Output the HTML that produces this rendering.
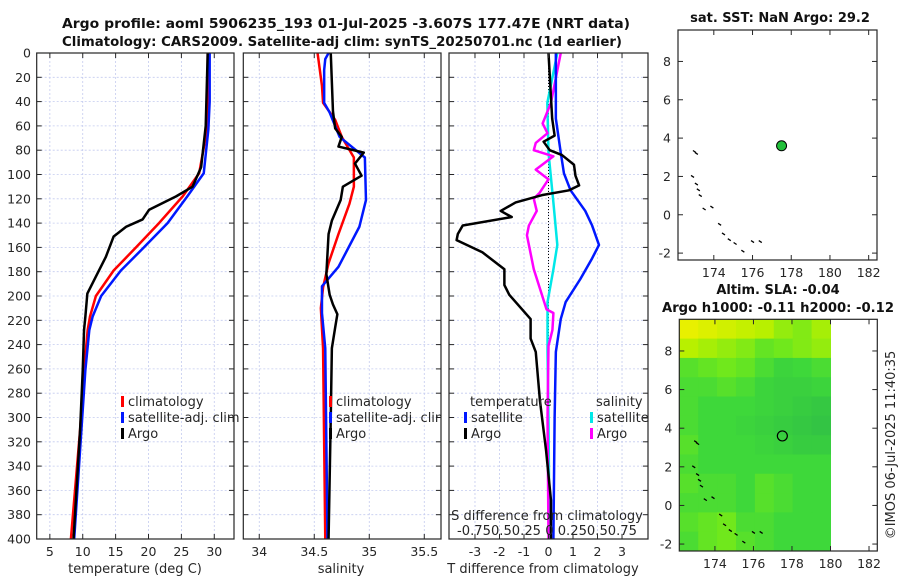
<!DOCTYPE html>
<html><head><meta charset="utf-8"><style>
html,body{margin:0;padding:0;background:#fff;}
svg{display:block;font-family:"DejaVu Sans","Liberation Sans",sans-serif;}
</style></head><body>
<svg id="fig" width="900" height="580" viewBox="0 0 900 580" xmlns="http://www.w3.org/2000/svg">
<defs><clipPath id="clip2"><rect x="243" y="53" width="198" height="486"/></clipPath></defs>
<g id="root"></g>
</svg>
<script>
// ---- data ----
const depthTicks = [0,20,40,60,80,100,120,140,160,180,200,220,240,260,280,300,320,340,360,380,400];
const tempTicks = [5,10,15,20,25,30];
const salTicks = [34,34.5,35,35.5];
const diffTicks = [-3,-2,-1,0,1,2,3];

const climTDepth = [0,40,63,99,118,140,160,179,200,217,228,261,310,400];
const climT      = [29.0,29.0,28.9,27.7,25.2,21.6,18.1,14.7,12.0,11.1,10.75,10.2,9.6,8.2];
const satTDepth  = [0,40,63,99,118,140,160,179,200,217,228,261,310,400];
const satT       = [29.3,29.3,29.1,28.4,25.9,22.9,19.3,15.8,12.8,11.5,11.0,10.4,9.8,8.7];
const argoTDepth = [0,60,94,110,118,122,129,137,143,151,168,184,198,217,228,261,310,400];
const argoT      = [29.0,28.7,28.0,26.7,24.2,22.7,20.1,19.1,16.6,14.7,13.5,12.0,10.7,10.4,10.2,10.0,9.6,8.6];

const climSDepth = [0,27,41,55,69,86,110,124,149,173,193,210,243,400];
const climS      = [34.53,34.57,34.58,34.69,34.75,34.86,34.86,34.82,34.72,34.63,34.58,34.56,34.58,34.60];
const satSDepth  = [0,5,14,41,49,69,86,121,143,176,192,214,243,400];
const satS       = [34.63,34.6,34.59,34.59,34.64,34.73,34.96,34.97,34.91,34.72,34.57,34.57,34.6,34.62];
const argoSDepth = [0,48,62,69,77,82,91,101,110,121,138,149,182,199,207,215,226,243,300,400];
const argoS      = [34.65,34.67,34.69,34.75,34.72,34.95,34.87,34.93,34.76,34.74,34.66,34.63,34.61,34.64,34.67,34.71,34.69,34.66,34.65,34.63];

const satTdDepth = [0,54,82,99,113,130,142,158,169,186,205,219,246,300,400];
const satTd      = [0.3,0.3,0.5,0.63,0.9,1.5,1.78,2.06,1.78,1.3,0.7,0.5,0.3,0.25,0.2];
const argoTdDepth= [0,54,68,73,80,84,92,101,109,113,117,123,130,135,142,149,154,164,178,191,199,219,235,246,286,327,368,400];
const argoTd     = [0,0.15,0.25,-0.2,0.05,0.55,1.04,1.1,1.25,0.84,-0.27,-1.34,-1.95,-1.5,-3.5,-3.7,-3.75,-2.7,-1.8,-1.8,-1.6,-0.73,-0.73,-0.52,-0.35,-0.1,0.1,0.1];
const satSdDepth = [0,41,82,123,158,178,205,246,300,400];
const satSd      = [0.09,-0.012,0.0,0.05,0.09,0.05,-0.01,-0.01,0.0,0.01];
const argoSdDepth= [0,41,58,66,74,80,85,96,104,115,120,130,142,150,178,211,214,228,241,300,400];
const argoSd     = [0.125,0.025,-0.06,-0.01,-0.13,-0.15,0.05,-0.13,0.0,-0.09,-0.15,-0.12,-0.2,-0.22,-0.15,-0.02,0.05,0.04,0.0,-0.01,0.0];

const lonTicks = [174,176,178,180,182];
const latTicks = [-2,0,2,4,6,8];
const argoLon = 177.5, argoLat = 3.6;
const slaGrid = [
 [1.0,0.95,0.9,0.85,0.8,0.7,0.65,0.75],
 [0.8,0.75,0.7,0.65,0.55,0.6,0.65,0.7],
 [0.5,0.55,0.6,0.55,0.45,0.35,0.4,0.45],
 [0.45,0.45,0.5,0.45,0.35,0.3,0.3,0.35],
 [0.45,0.4,0.4,0.4,0.35,0.3,0.25,0.2],
 [0.45,0.4,0.4,0.35,0.3,0.25,0.2,0.15],
 [0.5,0.4,0.4,0.4,0.35,0.3,0.25,0.25],
 [0.45,0.4,0.4,0.4,0.4,0.4,0.4,0.4],
 [0.5,0.45,0.45,0.4,0.5,0.45,0.4,0.4],
 [0.45,0.45,0.45,0.4,0.5,0.45,0.4,0.4],
 [0.5,0.55,0.6,0.45,0.45,0.4,0.4,0.4],
 [0.45,0.55,0.6,0.5,0.45,0.4,0.4,0.4]
];
const coastLon = [173.0,173.1,172.9,173.1,173.2,173.3,173.5,173.9,174.3,174.5,174.8,175.1,175.5,176.0,176.4];
const coastLat = [3.3,3.2,2.0,1.6,1.3,1.0,0.3,0.4,-0.5,-1.0,-1.3,-1.5,-1.9,-1.4,-1.4];

// ---- helpers ----
const NS="http://www.w3.org/2000/svg";
const root=document.getElementById('root');
function el(tag,attrs,parent,text){const e=document.createElementNS(NS,tag);for(const k in attrs)e.setAttribute(k,attrs[k]);if(text!==undefined)e.textContent=text;(parent||root).appendChild(e);return e;}
const TC="#262626";
const Y0=53,Y1=539;
const FS=12.5;
function yD(d){return Y0+(d/400)*(Y1-Y0);}

function panel(name,x0,x1,xmin,xmax,ticks){
  const g=el('g',{});
  
  
  const sx=v=>x0+(v-xmin)/(xmax-xmin)*(x1-x0);
  ticks.forEach(t=>{el('line',{x1:sx(t),x2:sx(t),y1:Y0,y2:Y1,stroke:'#c4cbef','stroke-width':0.8,'stroke-dasharray':'2,2'},g);});
  depthTicks.forEach(d=>{el('line',{x1:x0,x2:x1,y1:yD(d),y2:yD(d),stroke:'#c4cbef','stroke-width':0.8,'stroke-dasharray':'2,2'},g);});
  return {g,sx};
}
function frame(g,x0,x1,xs){
  el('rect',{x:x0,y:Y0,width:x1-x0,height:Y1-Y0,fill:'none',stroke:TC,'stroke-width':1.2},g);
  depthTicks.forEach(d=>{el('line',{x1:x0,x2:x0+5,y1:yD(d),y2:yD(d),stroke:TC},g);el('line',{x1:x1-5,x2:x1,y1:yD(d),y2:yD(d),stroke:TC},g);});
  xs.forEach(x=>{el('line',{x1:x,x2:x,y1:Y1,y2:Y1-5,stroke:TC},g);el('line',{x1:x,x2:x,y1:Y0,y2:Y0+5,stroke:TC},g);});
}
function line(g,name,xs,ds,vals,color,w){
  const p=el('polyline',{points:vals.map((v,i)=>xs(v)+','+yD(ds[i])).join(' '),fill:'none',stroke:color,'stroke-width':w,'stroke-linejoin':'round'},g);
  
  
}
function legendRow(g,name,x,y,color,label){
  const r=el('g',{},g);
  
  
  el('rect',{x:x,y:y-10,width:3,height:11,fill:color},r);
  el('text',{x:x+7,y:y,'font-size':13,fill:TC},r,label);
}

// title
const t1=el('text',{x:62,y:28,'font-size':13,'font-weight':'bold',fill:'#111',textLength:568,lengthAdjust:'spacingAndGlyphs'},root,'Argo profile: aoml 5906235_193 01-Jul-2025 -3.607S 177.47E (NRT data)');

const t2=el('text',{x:62,y:46,'font-size':13,'font-weight':'bold',fill:'#111',textLength:560,lengthAdjust:'spacingAndGlyphs'},root,'Climatology: CARS2009. Satellite-adj clim: synTS_20250701.nc (1d earlier)');


// depth labels
depthTicks.forEach(d=>{const t=el('text',{x:31,y:yD(d)+4.5,'text-anchor':'end','font-size':FS,fill:TC},root,String(d));
});

// panel 1 temperature
let P=panel('temperature-panel',36.7,234,3,33,tempTicks);
line(P.g,'climatology-temp-line',P.sx,climTDepth,climT,'#f00',2.5);
line(P.g,'satellite-temp-line',P.sx,satTDepth,satT,'#0018ff',2.5);
line(P.g,'argo-temp-line',P.sx,argoTDepth,argoT,'#000',2.5);
frame(P.g,36.7,234,tempTicks.map(P.sx));
tempTicks.forEach(t=>{el('text',{x:P.sx(t),y:556,'text-anchor':'middle','font-size':FS,fill:TC},P.g,String(t));});
el('text',{x:135,y:573,'text-anchor':'middle','font-size':13,fill:TC},P.g,'temperature (deg C)');
legendRow(P.g,'legend-climatology',121,406,'#f00','climatology');
legendRow(P.g,'legend-satellite-adj',121,422,'#0018ff','satellite-adj. clim');
legendRow(P.g,'legend-argo',121,438,'#000','Argo');

// panel 2 salinity
P=panel('salinity-panel',243.3,441,33.855,35.652,salTicks);
line(P.g,'climatology-sal-line',P.sx,climSDepth,climS,'#f00',2.5);
line(P.g,'satellite-sal-line',P.sx,satSDepth,satS,'#0018ff',2.5);
line(P.g,'argo-sal-line',P.sx,argoSDepth,argoS,'#000',2.5);
frame(P.g,243.3,441,salTicks.map(P.sx));
salTicks.forEach(t=>{el('text',{x:P.sx(t),y:556,'text-anchor':'middle','font-size':FS,fill:TC},P.g,String(t));});
el('text',{x:341,y:573,'text-anchor':'middle','font-size':13,fill:TC},P.g,'salinity');
const lg2=el('g',{'clip-path':'url(#clip2)'},P.g);
legendRow(lg2,'legend-climatology-2',329,406,'#f00','climatology');
legendRow(lg2,'legend-satellite-adj-2',329,422,'#0018ff','satellite-adj. clim');
legendRow(lg2,'legend-argo-2',329,438,'#000','Argo');

// panel 3 differences
P=panel('difference-panel',449,648,-4.06,4.06,diffTicks);
const sx3=P.sx, sxS=v=>sx3(v*4);
el('line',{x1:sx3(0),x2:sx3(0),y1:Y0,y2:Y1,stroke:'#000','stroke-width':1,'stroke-dasharray':'1,2'},P.g);
line(P.g,'satellite-sal-diff-line',sxS,satSdDepth,satSd,'#00e8e8',2.5);
line(P.g,'argo-sal-diff-line',sxS,argoSdDepth,argoSd,'#f0f',2.5);
line(P.g,'satellite-temp-diff-line',sx3,satTdDepth,satTd,'#0018ff',2.5);
line(P.g,'argo-temp-diff-line',sx3,argoTdDepth,argoTd,'#000',2.5);
frame(P.g,449,648,diffTicks.map(sx3));
diffTicks.forEach(t=>{el('text',{x:sx3(t),y:556,'text-anchor':'middle','font-size':FS,fill:TC},P.g,String(t));});
el('text',{x:543,y:573,'text-anchor':'middle','font-size':13,fill:TC},P.g,'T difference from climatology');
el('text',{x:547,y:520,'text-anchor':'middle','font-size':13,fill:TC},P.g,'S difference from climatology');
el('text',{x:457,y:535,'font-size':13,fill:TC,textLength:180,lengthAdjust:'spacingAndGlyphs'},P.g,'-0.750.50.25 0 0.250.50.75');
el('text',{x:470,y:406,'font-size':13,fill:TC},P.g,'temperature');
el('text',{x:596,y:406,'font-size':13,fill:TC},P.g,'salinity');
legendRow(P.g,'legend-sat-temp-diff',464,422,'#0018ff','satellite');
legendRow(P.g,'legend-argo-temp-diff',464,438,'#000','Argo');
legendRow(P.g,'legend-sat-sal-diff',590,422,'#00e8e8','satellite');
legendRow(P.g,'legend-argo-sal-diff',590,438,'#f0f','Argo');

// ---- maps ----
function mapAxes(name,x0,x1,y0,y1){
  const g=el('g',{});
  
  
  const lx=v=>x0+(v-172.15)/(182.43-172.15)*(x1-x0);
  const ly=v=>y1-(v-(-2.36))/(9.64-(-2.36))*(y1-y0);
  return {g,lx,ly};
}
function mapFrame(M,x0,x1,y0,y1){
  el('rect',{x:x0,y:y0,width:x1-x0,height:y1-y0,fill:'none',stroke:TC,'stroke-width':1.2},M.g);
  lonTicks.forEach(v=>{const x=M.lx(v);el('line',{x1:x,x2:x,y1:y1,y2:y1-5,stroke:TC},M.g);el('line',{x1:x,x2:x,y1:y0,y2:y0+5,stroke:TC},M.g);
    el('text',{x:x,y:y1+17,'text-anchor':'middle','font-size':FS,fill:TC},M.g,String(v));});
  latTicks.forEach(v=>{const y=M.ly(v);el('line',{x1:x0,x2:x0+5,y1:y,y2:y,stroke:TC},M.g);el('line',{x1:x1-5,x2:x1,y1:y,y2:y,stroke:TC},M.g);
    el('text',{x:x0-7,y:y+4.5,'text-anchor':'end','font-size':FS,fill:TC},M.g,String(v));});
}
function coast(M){
  for(let i=0;i<coastLon.length;i++){
    const c=el('line',{x1:M.lx(coastLon[i])-1.5,y1:M.ly(coastLat[i])-1,x2:M.lx(coastLon[i])+1.5,y2:M.ly(coastLat[i])+1,stroke:'#000','stroke-width':1.3},M.g);
    
    
  }
}
// top map
let M=mapAxes('sst-map',678,877,30,260);
coast(M);
const dot=el('circle',{cx:M.lx(argoLon),cy:M.ly(argoLat),r:5,fill:'#22c03a',stroke:'#000','stroke-width':1},M.g);

mapFrame(M,678,877,30,260);
el('text',{x:780,y:22,'text-anchor':'middle','font-size':13,'font-weight':'bold',fill:'#111'},M.g,'sat. SST: NaN Argo: 29.2');

// bottom map
M=mapAxes('sla-map',679.3,877.3,319.3,551);
const stops=[[0,[44,184,74]],[0.4,[62,216,58]],[0.6,[112,232,28]],[0.8,[184,240,0]],[1,[232,240,0]]];
function cmap(v){for(let i=1;i<stops.length;i++){if(v<=stops[i][0]){const a=stops[i-1],b=stops[i],f=(v-a[0])/(b[0]-a[0]);return 'rgb('+a[1].map((c,k)=>Math.round(c+(b[1][k]-c)*f)).join(',')+')';}}return 'rgb(232,240,0)';}
const cols=slaGrid[0].length, rows=slaGrid.length;
const lonW=(180-172.15)/cols, latH=(9.64+2.36)/rows;
slaGrid.forEach((row,r)=>row.forEach((v,c)=>{
  const x=M.lx(172.15+c*lonW), x2=M.lx(172.15+(c+1)*lonW);
  const y=M.ly(9.64-r*latH), y2=M.ly(9.64-(r+1)*latH);
  const cell=el('rect',{x:x,y:y,width:x2-x+0.5,height:y2-y+0.5,fill:cmap(v)},M.g);
  
  
}));
coast(M);
const ring=el('circle',{cx:M.lx(argoLon),cy:M.ly(argoLat),r:5,fill:'none',stroke:'#000','stroke-width':1.2},M.g);

mapFrame(M,679.3,877.3,319.3,551);
el('text',{x:778,y:294,'text-anchor':'middle','font-size':13,'font-weight':'bold',fill:'#111'},M.g,'Altim. SLA: -0.04');
el('text',{x:778,y:312,'text-anchor':'middle','font-size':13,'font-weight':'bold',fill:'#111',textLength:232,lengthAdjust:'spacingAndGlyphs'},M.g,'Argo h1000: -0.11 h2000: -0.12');

const stamp=el('text',{x:0,y:0,'text-anchor':'middle','font-size':13,fill:TC,transform:'translate(895,445) rotate(-90)'},root,'©IMOS 06-Jul-2025 11:40:35');

</script>
</body></html>
